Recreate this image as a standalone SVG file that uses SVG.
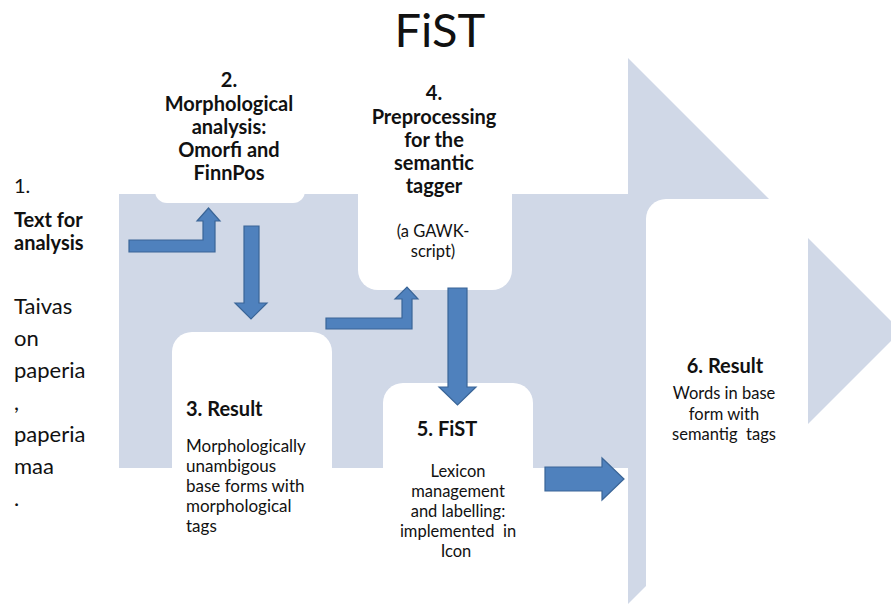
<svg xmlns="http://www.w3.org/2000/svg" width="891" height="604" viewBox="0 0 891 604">
<style>
text{font-family:Lato,"Open Sans","Liberation Sans",sans-serif;fill:#111}
.t{font-size:47px}
.h{font-size:20px;font-weight:bold}
.n{font-size:22px}
.n1{font-size:20px}
.s{font-size:16.5px}
.s3{font-size:17px}
.c{text-anchor:middle}
.box{fill:#fff}
.arr{fill:#4F81BD;stroke:#3A6597;stroke-width:1.2}
</style>
<rect width="891" height="604" fill="#fff"/>
<polygon id="backdrop" points="119,194 628,194 628,58 901,331 628,604 628,468 119,468" fill="#D0D8E7"/>
<text class="t c" x="440" y="47">FiST</text>
<g id="node1">
<text class="n1" x="14" y="193">1.</text>
<text class="h" x="14" y="227">Text for</text>
<text class="h" x="14" y="250">analysis</text>
<text class="n" x="14" y="314">Taivas</text>
<text class="n" x="14" y="346">on</text>
<text class="n" x="14" y="378">paperia</text>
<text class="n" x="14" y="410">,</text>
<text class="n" x="14" y="442">paperia</text>
<text class="n" x="14" y="474">maa</text>
<text class="n" x="14" y="506">.</text>
</g>
<g id="node2">
<rect class="box" x="155" y="60" width="150" height="143" rx="12"/>
<text class="h c" x="229" y="87">2.</text>
<text class="h c" x="229" y="111">Morphological</text>
<text class="h c" x="229" y="134">analysis:</text>
<text class="h c" x="229" y="157">Omorfi and</text>
<text class="h c" x="229" y="180">FinnPos</text>
</g>
<g id="node4">
<rect class="box" x="358" y="70" width="154" height="220" rx="20"/>
<text class="h c" x="434" y="100">4.</text>
<text class="h c" x="434" y="124">Preprocessing</text>
<text class="h c" x="434" y="147">for the</text>
<text class="h c" x="434" y="170">semantic</text>
<text class="h c" x="434" y="193">tagger</text>
<text class="s c" x="433" y="237">(a GAWK-</text>
<text class="s c" x="433" y="257">script)</text>
</g>
<g id="node3">
<rect class="box" x="172" y="332" width="160" height="230" rx="20"/>
<text class="h" x="186" y="416">3. Result</text>
<text class="s3" x="186" y="452">Morphologically</text>
<text class="s3" x="186" y="472">unambigous</text>
<text class="s3" x="186" y="492">base forms with</text>
<text class="s3" x="186" y="512">morphological</text>
<text class="s3" x="186" y="532">tags</text>
</g>
<g id="node5">
<rect class="box" x="383" y="383" width="150" height="200" rx="20"/>
<text class="h c" x="447" y="436">5. FiST</text>
<text class="s c" x="458" y="477">Lexicon</text>
<text class="s c" x="458" y="497">management</text>
<text class="s c" x="458" y="517">and labelling:</text>
<text class="s c" x="458" y="537" xml:space="preserve">implemented  in</text>
<text class="s c" x="456" y="557">Icon</text>
</g>
<g id="node6">
<rect class="box" x="646" y="199" width="162" height="420" rx="20"/>
<text class="h c" x="725" y="373">6. Result</text>
<text class="s c" x="724" y="399">Words in base</text>
<text class="s c" x="724" y="420">form with</text>
<text class="s c" x="724" y="440" xml:space="preserve">semantig  tags</text>
</g>
<g id="connectors">
<polygon class="arr" points="129,240 203,240 203,221 197,221 208.5,208 220,221 215,221 215,252 129,252"/>
<polygon class="arr" points="244,226 259,226 259,303 267,303 251,319 235,303 244,303"/>
<polygon class="arr" points="326,318 402,318 402,299 395,299 407,287 418,299 412,299 412,329 326,329"/>
<polygon class="arr" points="448,288 467,288 467,387 476,387 457.5,405 439,387 448,387"/>
<polygon class="arr" points="545,467 602,467 602,458 624,479 602,500 602,491 545,491"/>
</g>
</svg>
